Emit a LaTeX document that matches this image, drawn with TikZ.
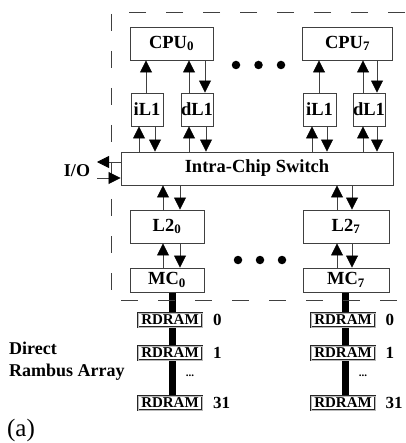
\documentclass[tikz,border=0pt]{standalone}
\usepackage{fontspec}
\setmainfont{Liberation Serif}
\usetikzlibrary{arrows.meta}
\pgfdeclarelayer{bg}
\pgfsetlayers{bg,main}
\begin{document}
\begin{tikzpicture}[x=1pt,y=-1pt,
  box/.style={draw=black!75, line width=0.9pt, fill=white, inner sep=0pt,
    font=\fontsize{18.5}{20}\selectfont\bfseries},
  rdram/.style={draw=black!85, line width=0.6pt, double=gray!55, double distance=0.7pt,
    fill=white, inner sep=0pt, minimum width=64pt, minimum height=14pt,
    font=\fontsize{15}{16}\selectfont\bfseries},
  lbl/.style={inner sep=0pt, font=\fontsize{18}{20}\selectfont\bfseries},
  num/.style={inner sep=0pt, anchor=west, font=\fontsize{17}{18}\selectfont\bfseries},
  arr/.style={draw=black!75, line width=0.8pt, -{Triangle[length=12pt,width=12pt,color=black]}},
  dotn/.style={circle, fill=black, inner sep=0pt, minimum size=8.5pt},
  bus/.style={line width=7pt, draw=black},
  frame/.style={draw=black!75, line width=0.9pt, dash pattern=on 17pt off 20pt}]
\useasboundingbox (0,0) rectangle (405,443);

% dashed chip boundary
\draw[frame] (405,12) -- (111,12) -- (111,300) -- (405,300);

% CPUs and L1s
\node[box, minimum width=83pt, minimum height=33pt] (cpu0) at (171.5,43.5) {CPU\textsubscript{0}};
\node[box, minimum width=90pt, minimum height=33pt] (cpu7) at (347.5,43.5) {CPU\textsubscript{7}};
\node[box, minimum width=32pt, minimum height=33pt] (il1a) at (147,109.5) {iL1};
\node[box, minimum width=32pt, minimum height=33pt] (dl1a) at (197,109.5) {dL1};
\node[box, minimum width=33pt, minimum height=33pt] (il1b) at (319.5,109.5) {iL1};
\node[box, minimum width=32pt, minimum height=33pt] (dl1b) at (369,109.5) {dL1};

% switch
\node[box, minimum width=272pt, minimum height=33pt] (sw) at (257,168.5) {Intra-Chip Switch};

% L2 and MC
\node[box, minimum width=74pt, minimum height=33pt] (l2a) at (167,226.5) {L2\textsubscript{0}};
\node[box, minimum width=86pt, minimum height=33pt] (l2b) at (346,226.5) {L2\textsubscript{7}};
\node[box, minimum width=74pt, minimum height=24pt] (mca) at (167,280) {MC\textsubscript{0}};
\node[box, minimum width=86pt, minimum height=24pt] (mcb) at (346,280) {MC\textsubscript{7}};

% dots
\node[dotn] (d1) at (236,65) {};
\node[dotn] (d2) at (258.5,65) {};
\node[dotn] (d3) at (281,65) {};
\node[dotn] (d4) at (238,260) {};
\node[dotn] (d5) at (260,260) {};
\node[dotn] (d6) at (282,260) {};

% RDRAM arrays
\node[rdram] (ra0) at (170,320) {RDRAM};
\node[rdram] (ra1) at (170,353) {RDRAM};
\node[rdram] (ra31) at (170,403) {RDRAM};
\node[rdram] (rb0) at (343,320) {RDRAM};
\node[rdram] (rb1) at (343,353) {RDRAM};
\node[rdram] (rb31) at (343,403) {RDRAM};
\node[num] (na0) at (213,320) {0};
\node[num] (na1) at (213,353) {1};
\node[num] (na31) at (213,403) {31};
\node[num] (nb0) at (385.5,320) {0};
\node[num] (nb1) at (385.5,353) {1};
\node[num] (nb31) at (385.5,403) {31};
\node[inner sep=0pt, font=\fontsize{11}{12}\selectfont\bfseries] (ea) at (190,376) {...};
\node[inner sep=0pt, font=\fontsize{11}{12}\selectfont\bfseries] (eb) at (363,376) {...};

% memory buses (behind)
\coordinate (bxa) at (172,0);
\coordinate (bxb) at (345,0);
\begin{pgfonlayer}{bg}
\draw[bus] (mca.south -| bxa) -- (ra31.north -| bxa);
\draw[bus] (mcb.south -| bxb) -- (rb31.north -| bxb);
\end{pgfonlayer}

% x positions of the vertical arrows
\coordinate (a1) at (146,0);
\coordinate (a2) at (189,0);
\coordinate (a3) at (205,0);
\coordinate (a4) at (319,0);
\coordinate (a5) at (363,0);
\coordinate (a6) at (377,0);
\coordinate (b1) at (139,0);
\coordinate (b2) at (155,0);
\coordinate (b3) at (189,0);
\coordinate (b4) at (206,0);
\coordinate (b5) at (312,0);
\coordinate (b6) at (327,0);
\coordinate (b7) at (363,0);
\coordinate (b8) at (377,0);
\coordinate (c1) at (163,0);
\coordinate (c2) at (180,0);
\coordinate (c3) at (337,0);
\coordinate (c4) at (352,0);

% L1 <-> CPU
\draw[arr] (il1a.north -| a1) -- (cpu0.south -| a1);
\draw[arr] (dl1a.north -| a2) -- (cpu0.south -| a2);
\draw[arr] (cpu0.south -| a3) -- (dl1a.north -| a3);
\draw[arr] (il1b.north -| a4) -- (cpu7.south -| a4);
\draw[arr] (dl1b.north -| a5) -- (cpu7.south -| a5);
\draw[arr] (cpu7.south -| a6) -- (dl1b.north -| a6);

% switch <-> L1
\draw[arr] (sw.north -| b1) -- (il1a.south -| b1);
\draw[arr] (il1a.south -| b2) -- (sw.north -| b2);
\draw[arr] (sw.north -| b3) -- (dl1a.south -| b3);
\draw[arr] (dl1a.south -| b4) -- (sw.north -| b4);
\draw[arr] (sw.north -| b5) -- (il1b.south -| b5);
\draw[arr] (il1b.south -| b6) -- (sw.north -| b6);
\draw[arr] (sw.north -| b7) -- (dl1b.south -| b7);
\draw[arr] (dl1b.south -| b8) -- (sw.north -| b8);

% switch <-> L2
\draw[arr] (l2a.north -| c1) -- (sw.south -| c1);
\draw[arr] (sw.south -| c2) -- (l2a.north -| c2);
\draw[arr] (l2b.north -| c3) -- (sw.south -| c3);
\draw[arr] (sw.south -| c4) -- (l2b.north -| c4);

% L2 <-> MC
\draw[arr] (mca.north -| c1) -- (l2a.south -| c1);
\draw[arr] (l2a.south -| c2) -- (mca.north -| c2);
\draw[arr] (mcb.north -| c3) -- (l2b.south -| c3);
\draw[arr] (l2b.south -| c4) -- (mcb.north -| c4);

% I/O
\coordinate (io1) at (97,162);
\coordinate (io2) at (97,178);
\draw[arr] (sw.west |- io1) -- (io1);
\draw[arr] (io2) -- (sw.west |- io2);
\node[lbl] (io) at (77,171) {I/O};

% labels
\node[lbl, anchor=base west] (dir) at (9,354) {Direct};
\node[lbl, anchor=base west] (ram) at (9,376) {Rambus Array};
\node[inner sep=0pt, font=\fontsize{25}{28}\selectfont] (cap) at (21,430) {(a)};
\end{tikzpicture}
\end{document}
